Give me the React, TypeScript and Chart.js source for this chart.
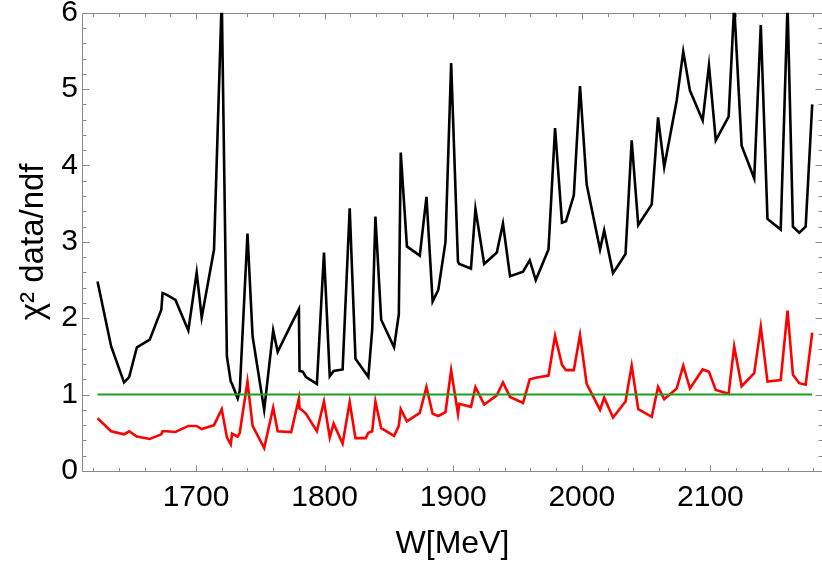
import React, { useEffect, useRef } from 'react';
import { Chart, registerables } from 'chart.js';

Chart.register(...registerables);

// W in MeV
const energies = [
  1623.4, 1634, 1644, 1648, 1654, 1664, 1673, 1674, 1677, 1684,
  1694, 1700.5, 1704.4, 1714, 1720, 1724, 1727, 1728, 1732.4, 1734,
  1740, 1744, 1753, 1760, 1763.5, 1774, 1780, 1780.5, 1783, 1785.5,
  1794, 1799.5, 1804, 1807, 1814, 1819.5, 1824, 1832, 1834, 1837,
  1839.5, 1844, 1854, 1857.7, 1859.2, 1864, 1874, 1879.2, 1884, 1888.4,
  1894, 1898.4, 1903.7, 1904.7, 1913.8, 1917.3, 1924.1, 1933.9, 1938.7, 1944.2,
  1954.3, 1959.5, 1964.2, 1974.1, 1979.2, 1984.6, 1987.7, 1993.8, 1998.6, 2003.8,
  2014.2, 2017.4, 2024.3, 2034, 2038.8, 2043.9, 2054.4, 2059.3, 2064.1, 2073.8,
  2078.9, 2084.1, 2094, 2098.9, 2104.2, 2114.2, 2118.5, 2124.3, 2134.1, 2139.2,
  2144.4, 2154.7, 2160, 2164.2, 2169.1, 2174.1, 2179.2,
];

// chi^2 data/ndf, black curve
const chi2Black = [
  2.48, 1.63, 1.16, 1.23, 1.62, 1.72, 2.11, 2.33, 2.31, 2.24,
  1.84, 2.60, 2.01, 2.90, 6.2, 1.50, 1.17, 1.14, 0.95, 1.05,
  3.11, 1.76, 0.80, 1.84, 1.56, 1.92, 2.12, 1.31, 1.30, 1.23,
  1.14, 2.86, 1.24, 1.31, 1.33, 3.44, 1.47, 1.28, 1.23, 1.85,
  3.33, 1.98, 1.62, 2.05, 4.17, 2.94, 2.82, 3.59, 2.22, 2.37,
  3.00, 5.34, 2.74, 2.71, 2.65, 3.43, 2.71, 2.86, 3.24, 2.55,
  2.61, 2.76, 2.50, 2.90, 4.49, 3.25, 3.27, 3.61, 5.04, 3.75,
  2.90, 3.15, 2.59, 2.84, 4.33, 3.22, 3.49, 4.63, 3.98, 4.85,
  5.49, 4.98, 4.59, 5.31, 4.33, 4.64, 6.1, 4.26, 3.83, 5.84,
  3.30, 3.16, 6.1, 3.20, 3.12, 3.20, 4.80,
];

// chi^2 data/ndf, red curve
const chi2Red = [
  0.69, 0.52, 0.48, 0.52, 0.45, 0.42, 0.48, 0.52, 0.52, 0.51,
  0.59, 0.59, 0.55, 0.60, 0.81, 0.44, 0.35, 0.49, 0.45, 0.50,
  1.17, 0.59, 0.30, 0.83, 0.52, 0.51, 0.95, 0.82, 0.79, 0.75,
  0.52, 0.91, 0.44, 0.62, 0.36, 0.90, 0.43, 0.43, 0.50, 0.52,
  0.91, 0.56, 0.46, 0.59, 0.81, 0.65, 0.76, 1.10, 0.75, 0.72,
  0.77, 1.32, 0.75, 0.88, 0.84, 1.10, 0.87, 0.99, 1.16, 0.97,
  0.89, 1.20, 1.22, 1.25, 1.77, 1.39, 1.32, 1.32, 1.78, 1.14,
  0.80, 0.96, 0.70, 0.91, 1.38, 0.81, 0.71, 1.10, 0.94, 1.08,
  1.38, 1.08, 1.33, 1.30, 1.06, 1.01, 1.63, 1.11, 1.28, 1.89,
  1.17, 1.19, 2.10, 1.26, 1.15, 1.13, 1.81,
];

const referenceLevel = 1;

const xTickValues = [1700, 1800, 1900, 2000, 2100];
const yTickValues = [0, 1, 2, 3, 4, 5, 6];
const xMinorStep = 20;
const yMinorStep = 0.2;

const X_MIN = 1612.1;
const X_MAX = 2186.8;
const Y_MIN = 0;
const Y_MAX = 6;

const FONT = 'Liberation Sans, Arial, sans-serif';

const frameTicksPlugin = {
  id: 'frameTicks',
  beforeDatasetsDraw(chart: any) {
    const { ctx, chartArea, scales } = chart;
    const { left, right, top, bottom } = chartArea;
    const x = scales.x;
    const y = scales.y;
    ctx.save();
    ctx.strokeStyle = '#8a8a8a';
    ctx.lineWidth = 1;
    const L = Math.round(left) - 0.5;
    const R = Math.round(right) + 0.5;
    const T = Math.round(top) + 0.5;
    const B = Math.round(bottom) + 0.5;
    ctx.beginPath();
    ctx.moveTo(L, T);
    ctx.lineTo(R, T);
    ctx.moveTo(L, B);
    ctx.lineTo(R, B);
    ctx.moveTo(L, T);
    ctx.lineTo(L, B);
    ctx.moveTo(R, T);
    ctx.lineTo(R, B);
    // x ticks (bottom and top), pointing inward
    const xStart = Math.ceil(X_MIN / xMinorStep) * xMinorStep;
    for (let v = xStart; v <= X_MAX + 1e-9; v += xMinorStep) {
      const px = Math.round(x.getPixelForValue(v)) + 0.5;
      const major = Math.abs(v % 100) < 1e-6;
      const len = major ? 6 : 3.5;
      ctx.moveTo(px, B);
      ctx.lineTo(px, B - len);
      ctx.moveTo(px, T);
      ctx.lineTo(px, T + len);
    }
    // y ticks (left and right), pointing inward
    const nY = Math.round((Y_MAX - Y_MIN) / yMinorStep);
    for (let i = 0; i <= nY; i++) {
      const v = Y_MIN + i * yMinorStep;
      const py = Math.round(y.getPixelForValue(v)) + 0.5;
      const major = i % 5 === 0;
      const len = major ? 7 : 4;
      ctx.moveTo(L, py);
      ctx.lineTo(L + len, py);
      ctx.moveTo(R, py);
      ctx.lineTo(R - len, py);
    }
    ctx.stroke();
    ctx.restore();
  },
};

export default function App() {
  const canvasRef = useRef<HTMLCanvasElement | null>(null);

  useEffect(() => {
    const canvas = canvasRef.current;
    if (!canvas) return;

    const black = energies.map((w, i) => ({ x: w, y: chi2Black[i] }));
    const red = energies.map((w, i) => ({ x: w, y: chi2Red[i] }));
    const ref = [
      { x: energies[0], y: referenceLevel },
      { x: energies[energies.length - 1], y: referenceLevel },
    ];

    const chart = new Chart(canvas, {
      type: 'line',
      data: {
        datasets: [
          {
            label: 'reference',
            data: ref,
            borderColor: '#1f9e1f',
            borderWidth: 2,
            pointRadius: 0,
            tension: 0,
            clip: 0,
          },
          {
            label: 'fit 1',
            data: black,
            borderColor: '#000000',
            borderWidth: 2.6,
            pointRadius: 0,
            tension: 0,
            clip: 0,
          },
          {
            label: 'fit 2',
            data: red,
            borderColor: '#ff0000',
            borderWidth: 2.6,
            pointRadius: 0,
            tension: 0,
            clip: 0,
          },
        ],
      },
      options: {
        animation: false,
        responsive: false,
        devicePixelRatio: 1,
        layout: { padding: { top: 12.7, left: 0, right: 0, bottom: 0 } },
        plugins: {
          legend: { display: false },
          tooltip: { enabled: false },
        },
        scales: {
          x: {
            type: 'linear',
            min: X_MIN,
            max: X_MAX,
            grid: { display: false, drawTicks: false },
            border: { display: false },
            afterBuildTicks: (s: any) => {
              s.ticks = xTickValues.map((v) => ({ value: v }));
            },
            ticks: {
              font: { family: FONT, size: 30 },
              color: '#000000',
              padding: 9,
              maxRotation: 0,
              autoSkip: false,
              callback: (v: any) => String(v),
            },
            title: {
              display: true,
              text: 'W[MeV]',
              font: { family: FONT, size: 32 },
              color: '#000000',
              padding: { top: 0, bottom: 4 },
            },
            afterFit: (s: any) => {
              s.height = 96;
              s.paddingLeft = 0;
              s.paddingRight = 0;
              s.paddingTop = 0;
              s.paddingBottom = 0;
            },
          },
          y: {
            type: 'linear',
            min: Y_MIN,
            max: Y_MAX,
            grid: { display: false, drawTicks: false },
            border: { display: false },
            afterBuildTicks: (s: any) => {
              s.ticks = yTickValues.map((v) => ({ value: v }));
            },
            ticks: {
              font: { family: FONT, size: 30 },
              color: '#000000',
              padding: 5,
              autoSkip: false,
              callback: (v: any) => String(v),
            },
            title: {
              display: true,
              text: 'χ² data/ndf',
              font: { family: FONT, size: 33 },
              color: '#000000',
              padding: { top: 14, bottom: 0 },
            },
            afterFit: (s: any) => {
              s.width = 83;
              s.paddingLeft = 0;
              s.paddingRight = 0;
              s.paddingTop = 0;
              s.paddingBottom = 0;
            },
          },
        },
      },
      plugins: [frameTicksPlugin],
    } as any);

    return () => {
      chart.destroy();
    };
  }, []);

  return (
    <div style={{ position: 'fixed', left: 0, top: 0, width: 822, height: 567, background: '#ffffff' }}>
      <canvas ref={canvasRef} width={822} height={567} style={{ width: 822, height: 567, display: 'block' }} />
    </div>
  );
}
